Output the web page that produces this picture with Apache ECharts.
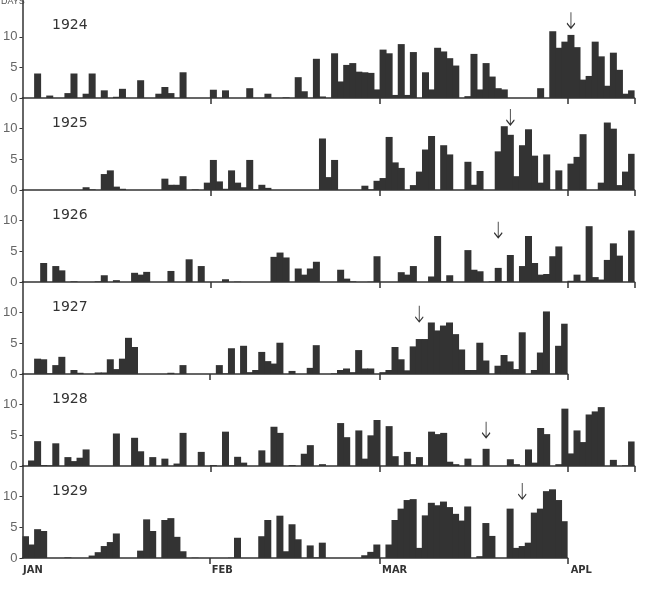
<!DOCTYPE html>
<html>
<head>
<meta charset="utf-8">
<script src="https://cdn.jsdelivr.net/npm/echarts@6/dist/echarts.min.js"></script>
<style>
  html, body { margin: 0; padding: 0; background: #fff; }
  #chart { width: 646px; height: 591px; }
</style>
</head>
<body>
<div id="chart"></div>
<script>
var monthNames = ["JAN", "FEB", "MAR", "APL"];
var monthLengths = [31, 28, 31, 11];
var years = ["1924", "1925", "1926", "1927", "1928", "1929"];

// days per day, Jan 1 onwards
var y1924 = [
  0, 0, 4, 0, 0.4, 0, 0, 0.8, 4, 0,
  0.7, 4, 0, 1.25, 0, 0.2, 1.5, 0, 0, 2.9,
  0, 0, 0.7, 1.8, 0.8, 0, 4.2, 0, 0, 0,
  0, 1.35, 0, 1.25, 0, 0, 0, 1.6, 0, 0,
  0.7, 0, 0, 0.1, 0, 3.4, 1.1, 0, 6.4, 0.25,
  0, 7.3, 2.7, 5.4, 5.7, 4.3, 4.2, 4.1, 1.4, 7.9,
  7.3, 0.5, 8.8, 0.5, 7.5, 0, 4.2, 1.4, 8.2, 7.6,
  6.5, 5.3, 0, 0.3, 7.2, 1.4, 5.7, 3.5, 1.6, 1.4,
  0, 0, 0, 0, 0, 1.6, 0, 10.9, 8.2, 9.2,
  10.3, 8.3, 3, 3.6, 9.2, 6.8, 2, 7.4, 4.6, 0.7,
  1.25
];
var y1925 = [
  0, 0, 0, 0, 0, 0, 0, 0, 0, 0,
  0.45, 0.1, 0, 2.6, 3.2, 0.55, 0.2, 0, 0, 0,
  0, 0, 0, 1.85, 0.85, 0.85, 2.25, 0, 0.1, 0,
  1.2, 4.9, 1.4, 0.2, 3.2, 1.2, 0.45, 4.9, 0.1, 0.85,
  0.35, 0, 0, 0, 0, 0, 0, 0, 0, 8.4,
  2.1, 4.9, 0, 0, 0, 0, 0.7, 0.1, 1.5, 1.95,
  8.65, 4.5, 3.6, 0, 0.8, 3, 6.6, 8.8, 0, 7.3,
  5.8, 0, 0, 4.6, 0.85, 3.1, 0, 0, 6.3, 10.4,
  9, 2.25, 7.3, 9.9, 5.6, 1.2, 5.8, 0, 3.2, 0,
  4.3, 5.4, 9.1, 0, 0, 1.2, 11, 10, 0.8, 3,
  5.9
];
var y1926 = [
  0, 0, 0, 3.1, 0, 2.6, 1.9, 0, 0.1, 0,
  0, 0, 0.1, 1.1, 0, 0.3, 0, 0, 1.5, 1.2,
  1.65, 0, 0, 0, 1.8, 0, 0, 3.7, 0, 2.6,
  0, 0, 0, 0.45, 0, 0.05, 0, 0, 0, 0,
  0, 4.1, 4.8, 4, 0, 2.2, 1.2, 2.2, 3.3, 0,
  0, 0, 2, 0.55, 0.1, 0, 0, 0.05, 4.2, 0,
  0, 0, 1.6, 1.2, 2.6, 0, 0, 0.9, 7.5, 0.1,
  1.1, 0, 0, 5.2, 2, 1.75, 0, 0.1, 2.3, 0.1,
  4.4, 0, 2.6, 7.5, 3.1, 1.2, 1.3, 4.2, 5.8, 0,
  0.2, 1.2, 0.2, 9.1, 0.8, 0.4, 3.6, 6.3, 4.3, 0,
  8.4
];
var y1927 = [
  0, 0, 2.5, 2.4, 0.1, 1.45, 2.8, 0, 0.65, 0.2,
  0, 0, 0.25, 0.25, 2.4, 0.8, 2.5, 5.9, 4.4, 0,
  0, 0, 0, 0, 0.2, 0, 1.45, 0, 0, 0,
  0, 0, 1.45, 0.1, 4.2, 0, 4.6, 0.3, 0.65, 3.6,
  2.1, 1.7, 5.1, 0, 0.5, 0, 0, 1, 4.7, 0,
  0, 0.1, 0.65, 0.9, 0.3, 3.9, 0.9, 0.9, 0, 0.3,
  0.65, 4.4, 2.4, 0.6, 4.5, 5.7, 5.7, 8.4, 7.1, 7.9,
  8.4, 6.5, 4, 0.65, 0.65, 5.1, 2.2, 0, 1.35, 3.1,
  2.05, 0.8, 6.8, 0, 0.65, 3.5, 10.2, 0, 4.6, 8.2
];
var y1928 = [
  0, 0.9, 4.05, 0.15, 0.1, 3.7, 0, 1.45, 0.8, 1.35,
  2.7, 0, 0, 0, 0, 5.3, 0, 0, 4.6, 2.4,
  0, 1.45, 0, 1.2, 0, 0.4, 5.4, 0, 0, 2.3,
  0, 0.15, 0, 5.6, 0.1, 1.5, 0.55, 0, 0, 2.55,
  0.55, 6.4, 5.4, 0, 0.15, 0, 2, 3.4, 0, 0.3,
  0, 0, 7, 4.7, 0, 5.8, 1.2, 5, 7.5, 0,
  6.5, 1.6, 0, 2.3, 0.3, 1.45, 0, 5.6, 5.2, 5.4,
  0.7, 0.3, 0, 1.2, 0, 0, 2.8, 0, 0, 0,
  1.1, 0.3, 0, 2.7, 0.55, 6.2, 5.2, 0, 0.3, 9.35,
  2.05, 5.8, 3.9, 8.4, 8.9, 9.6, 0, 1, 0, 0.1,
  4
];
var y1929 = [
  3.55, 2.2, 4.7, 4.4, 0, 0, 0, 0.1, 0, 0,
  0, 0.4, 0.95, 1.95, 2.6, 4, 0, 0, 0, 1.2,
  6.3, 4.4, 0, 6.2, 6.5, 3.45, 1.1, 0, 0.05, 0,
  0, 0, 0, 0, 0.05, 3.3, 0, 0, 0, 3.55,
  6.2, 0, 6.9, 1.1, 5.5, 3.05, 0, 2.05, 0.1, 2.5,
  0, 0, 0, 0, 0, 0, 0.45, 1, 2.2, 0,
  2.2, 6.2, 8.05, 9.45, 9.6, 1.65, 6.95, 9, 8.6, 9.2,
  8.3, 7.2, 6.1, 8.4, 0, 0.3, 5.7, 3.6, 0, 0,
  8.05, 1.65, 1.95, 2.5, 7.4, 8.05, 10.9, 11.2, 9.45, 6
];

// arrow marks: day index and the value at the arrow tip
var arrowDay = [90, 80, 78, 65, 76, 82];
var arrowTip = [11.4, 10.6, 7.2, 8.5, 4.6, 9.6];

var yearData = [y1924, y1925, y1926, y1927, y1928, y1929];

var days = [];
var monthStart = [];
monthLengths.forEach(function (len, m) {
  monthStart.push(days.length);
  for (var d = 1; d <= len; d++) {
    days.push(monthNames[m] + " " + d);
  }
});

var dayPx = 6.085;
var left = 20;
var panelTop = [0, 98, 190, 282, 374, 466];
var panelHeight = [98, 92, 92, 92, 92, 92];
var panelMax = [16, 15, 15, 15, 15, 15];
var ink = "#333";

var option = {
  backgroundColor: "#fff",
  animation: false,
  title: [],
  grid: [],
  xAxis: [],
  yAxis: [],
  series: [],
  graphic: [
    {
      type: "text",
      x: 1,
      y: -3,
      style: { text: "DAYS", fontSize: 9, fill: "#555", fontFamily: "Liberation Sans" }
    }
  ]
};

years.forEach(function (year, i) {
  var n = yearData[i].length;
  option.title.push({
    text: year,
    left: 52,
    top: panelTop[i] + 18,
    padding: 0,
    textStyle: { fontFamily: "DejaVu Sans", fontSize: 14, fontWeight: "normal", color: ink }
  });
  option.grid.push({ left: left, top: panelTop[i], width: n * dayPx, height: panelHeight[i] });
  option.xAxis.push({
    type: "category",
    gridIndex: i,
    data: days.slice(0, n),
    axisLine: { lineStyle: { color: ink, width: 1.5 } },
    axisTick: {
      show: true,
      alignWithLabel: false,
      length: 6,
      interval: function (idx) {
        return monthStart.indexOf(idx) > 0;
      },
      lineStyle: { color: ink, width: 1.5 }
    },
    axisLabel: { show: false },
    splitLine: { show: false }
  });
  option.yAxis.push({
    type: "value",
    gridIndex: i,
    min: 0,
    max: panelMax[i],
    interval: 5,
    axisLine: { show: true, lineStyle: { color: ink, width: 1.5 } },
    axisTick: { show: true, length: 3, customValues: [0, 5, 10], lineStyle: { color: ink } },
    axisLabel: {
      margin: 5,
      fontSize: 13,
      color: "#666",
      fontFamily: "Liberation Sans",
      customValues: [0, 5, 10],
      formatter: function (v) {
        return v <= 10 ? String(v) : "";
      }
    },
    splitLine: { show: false }
  });
  option.series.push({
    type: "bar",
    xAxisIndex: i,
    yAxisIndex: i,
    data: yearData[i],
    // a little wider than a day so neighbouring bars merge into blocks
    barWidth: 7,
    itemStyle: { color: ink },
    markPoint: {
      silent: true,
      symbol: "path://M4,0L4,16M0,11L4,16L8,11",
      symbolSize: [8, 16],
      symbolOffset: [0, "-50%"],
      itemStyle: { color: "none", borderColor: ink, borderWidth: 1.2 },
      label: { show: false },
      data: [{ coord: [arrowDay[i], arrowTip[i]] }]
    }
  });
});

// month names under the last panel
option.grid.push({ left: left, top: 558, width: days.length * dayPx, height: 1 });
option.xAxis.push({
  type: "category",
  gridIndex: 6,
  data: days,
  axisLine: { show: false },
  axisTick: { show: false },
  axisLabel: {
    interval: function (idx) {
      return monthStart.indexOf(idx) >= 0;
    },
    formatter: function (v) {
      return v.split(" ")[0];
    },
    align: "left",
    margin: 6,
    fontSize: 11,
    fontWeight: "bold",
    fontFamily: "'Liberation Sans Narrow', 'DejaVu Sans Condensed', 'Liberation Sans', sans-serif",
    color: ink
  }
});
option.yAxis.push({ type: "value", gridIndex: 6, show: false });

var chart = echarts.init(document.getElementById("chart"));
chart.setOption(option);
</script>
</body>
</html>
